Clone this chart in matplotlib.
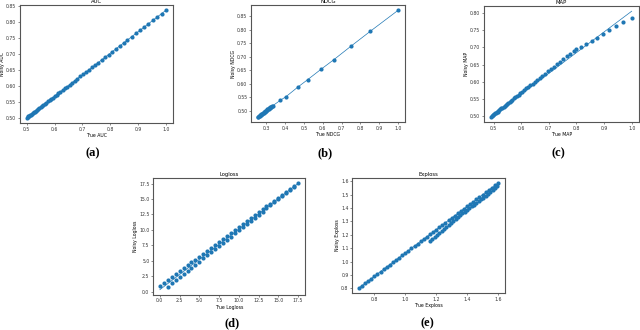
import matplotlib
matplotlib.use('Agg')
import matplotlib.pyplot as plt

# AUC
auc_true = [0.500, 0.503, 0.506, 0.509, 0.512, 0.515, 0.518, 0.521, 0.525, 0.529, 0.533, 0.537,
            0.541, 0.545, 0.550, 0.555, 0.560, 0.565, 0.570, 0.576, 0.582, 0.588, 0.594, 0.600,
            0.607, 0.614, 0.621, 0.629, 0.637, 0.645, 0.654, 0.663, 0.672, 0.682, 0.692, 0.702,
            0.712, 0.723, 0.734, 0.745, 0.757, 0.769, 0.781, 0.794, 0.807, 0.820, 0.834, 0.848,
            0.862, 0.877, 0.892, 0.907, 0.922, 0.937, 0.953, 0.969, 0.985, 1.000]
auc_noisy = [0.500, 0.502, 0.504, 0.506, 0.508, 0.510, 0.512, 0.514, 0.517, 0.519, 0.522, 0.525,
             0.527, 0.530, 0.534, 0.537, 0.540, 0.544, 0.547, 0.551, 0.555, 0.559, 0.563, 0.567,
             0.572, 0.576, 0.581, 0.586, 0.592, 0.597, 0.603, 0.609, 0.615, 0.622, 0.629, 0.635,
             0.642, 0.649, 0.657, 0.664, 0.672, 0.680, 0.688, 0.697, 0.706, 0.714, 0.724, 0.733,
             0.743, 0.753, 0.763, 0.773, 0.783, 0.793, 0.804, 0.814, 0.825, 0.835]
auc_line_x = [0.5, 1.0]
auc_line_y = [0.5, 0.835]

# NDCG
ndcg_true = [0.255, 0.258, 0.261, 0.264, 0.267, 0.270, 0.273, 0.276, 0.279, 0.282, 0.285, 0.288,
             0.291, 0.294, 0.297, 0.300, 0.303, 0.306, 0.309, 0.312, 0.315, 0.318, 0.321, 0.324,
             0.327, 0.330, 0.334, 0.374, 0.405, 0.467, 0.520, 0.590, 0.657, 0.748, 0.852, 1.000]
ndcg_noisy = [0.478, 0.479, 0.481, 0.482, 0.484, 0.485, 0.487, 0.489, 0.490, 0.492, 0.493, 0.495,
              0.497, 0.498, 0.500, 0.501, 0.503, 0.505, 0.506, 0.508, 0.509, 0.511, 0.513, 0.514,
              0.516, 0.517, 0.519, 0.539, 0.553, 0.588, 0.616, 0.654, 0.689, 0.739, 0.795, 0.873]

# MAP
map_true = [0.490, 0.493, 0.496, 0.499, 0.502, 0.505, 0.508, 0.511, 0.514, 0.517, 0.520, 0.524,
            0.528, 0.532, 0.536, 0.540, 0.544, 0.548, 0.553, 0.558, 0.563, 0.568, 0.573, 0.579,
            0.585, 0.591, 0.597, 0.604, 0.611, 0.618, 0.625, 0.633, 0.641, 0.649, 0.658, 0.667,
            0.676, 0.686, 0.696, 0.706, 0.717, 0.728, 0.740, 0.752, 0.764, 0.777, 0.790, 0.800,
            0.817, 0.835, 0.855, 0.874, 0.896, 0.918, 0.943, 0.970, 1.000]
map_noisy = [0.497, 0.499, 0.501, 0.503, 0.505, 0.507, 0.509, 0.511, 0.512, 0.514, 0.516, 0.519,
             0.522, 0.524, 0.527, 0.529, 0.532, 0.534, 0.538, 0.541, 0.544, 0.547, 0.551, 0.554,
             0.558, 0.562, 0.566, 0.571, 0.575, 0.580, 0.584, 0.589, 0.594, 0.600, 0.605, 0.611,
             0.617, 0.623, 0.630, 0.636, 0.643, 0.651, 0.658, 0.666, 0.674, 0.682, 0.691, 0.695,
             0.702, 0.710, 0.719, 0.728, 0.740, 0.750, 0.762, 0.775, 0.785]
map_line_x = [0.49, 1.0]
map_line_y = [0.497, 0.806]

# Logloss (two interleaved rows)
log_true_a = [0.0, 0.5, 1.0, 1.5, 2.0, 2.5, 3.0, 3.5, 4.0, 4.5, 5.0, 5.5, 6.0, 6.5, 7.0, 7.5, 8.0, 8.5,
              9.0, 9.5, 10.0, 10.5, 11.0, 11.5, 12.0, 12.5, 13.0, 13.5, 14.0, 14.5, 15.0, 15.5, 16.0,
              16.5, 17.0, 17.5]
log_noisy_a = [0.90, 1.38, 1.85, 2.33, 2.81, 3.29, 3.76, 4.24, 4.72, 5.19, 5.67, 6.15, 6.63, 7.10,
               7.58, 8.06, 8.53, 9.01, 9.49, 9.97, 10.44, 10.92, 11.40, 11.87, 12.35, 12.83, 13.31,
               13.78, 14.26, 14.74, 15.21, 15.69, 16.17, 16.65, 17.12, 17.55]
log_true_b = [1.0, 1.5, 2.0, 2.5, 3.0, 3.5, 4.0, 4.5, 5.0, 5.5, 6.0, 6.5, 7.0, 7.5, 8.0, 8.5, 9.0, 9.5,
              10.0, 10.5, 11.0, 11.5, 12.0, 12.5, 13.0, 13.5, 14.0, 14.5, 15.0, 15.5, 16.0, 16.5, 17.0]
log_noisy_b = [0.80, 1.31, 1.81, 2.32, 2.83, 3.33, 3.84, 4.34, 4.85, 5.36, 5.86, 6.37, 6.88, 7.38,
               7.89, 8.39, 8.90, 9.41, 9.91, 10.42, 10.93, 11.43, 11.94, 12.44, 12.95, 13.46, 13.96,
               14.47, 14.98, 15.48, 15.99, 16.49, 17.00]
log_line_x = [0.0, 17.5]
log_line_y = [0.3, 17.5]

# Exploss (main row and a shorter lower row)
exp_true_a = [0.70, 0.72, 0.74, 0.76, 0.78, 0.80, 0.82, 0.84, 0.86, 0.88, 0.90, 0.92, 0.94, 0.96,
              0.98, 1.00, 1.02, 1.04, 1.06, 1.08, 1.10, 1.12, 1.14, 1.16, 1.18, 1.20, 1.22, 1.24,
              1.26, 1.28, 1.30, 1.32, 1.34, 1.36, 1.38, 1.40, 1.42, 1.44, 1.46, 1.48, 1.50, 1.52,
              1.54, 1.56, 1.58, 1.60]
exp_noisy_a = [0.805, 0.822, 0.840, 0.857, 0.874, 0.892, 0.909, 0.926, 0.944, 0.961, 0.978, 0.996,
               1.013, 1.030, 1.048, 1.065, 1.082, 1.100, 1.117, 1.134, 1.152, 1.169, 1.186, 1.204,
               1.221, 1.239, 1.256, 1.273, 1.291, 1.308, 1.325, 1.343, 1.360, 1.377, 1.395, 1.412,
               1.429, 1.447, 1.464, 1.481, 1.499, 1.516, 1.533, 1.551, 1.568, 1.585]
exp_true_b = [1.160, 1.175, 1.190, 1.205, 1.220, 1.235, 1.250, 1.265, 1.280, 1.295, 1.310, 1.325,
              1.340, 1.355, 1.370, 1.385, 1.400, 1.415, 1.430, 1.445, 1.460, 1.475, 1.490, 1.505,
              1.520, 1.535, 1.550, 1.565, 1.580, 1.595]
exp_noisy_b = [1.155, 1.170, 1.186, 1.201, 1.216, 1.231, 1.246, 1.261, 1.276, 1.290, 1.304, 1.318,
               1.332, 1.346, 1.360, 1.373, 1.386, 1.399, 1.412, 1.425, 1.438, 1.451, 1.464, 1.477,
               1.490, 1.504, 1.518, 1.532, 1.547, 1.562]
exp_line_x = [0.70, 1.60]
exp_line_y = [0.805, 1.585]

C = '#1f77b4'
FS = 3.3
fig = plt.figure(figsize=(6.4, 3.3), dpi=100)


def panel(rect, xs, ys, line, name, xticks, yticks, caption, cap_xy):
    ax = fig.add_axes(rect)
    for x, y in zip(xs, ys):
        ax.scatter(x, y, s=9, color=C, linewidths=0, zorder=3)
    if line is not None:
        ax.plot(line[0], line[1], color=C, lw=0.5, zorder=2)
    ax.set_title(name, fontsize=FS + 0.5, pad=1.5)
    ax.set_xlabel('True ' + name, fontsize=FS, labelpad=1)
    ax.set_ylabel('Noisy ' + name, fontsize=FS, labelpad=1)
    ax.set_xticks(xticks)
    ax.set_yticks(yticks)
    ax.tick_params(labelsize=FS, length=1.5, width=0.4, pad=1, colors='#333333')
    for sp in ax.spines.values():
        sp.set_linewidth(0.8)
        sp.set_color('#555555')
    fig.text(cap_xy[0], cap_xy[1], caption, ha='center', va='center',
             fontsize=9, fontweight='bold', family='Liberation Serif')
    return ax


panel([0.031, 0.627, 0.239, 0.358], [auc_true], [auc_noisy], (auc_line_x, auc_line_y), 'AUC',
      [0.5, 0.6, 0.7, 0.8, 0.9, 1.0], [0.50, 0.55, 0.60, 0.65, 0.70, 0.75, 0.80, 0.85],
      '(a)', (0.145, 0.536))
panel([0.392, 0.630, 0.241, 0.355], [ndcg_true], [ndcg_noisy], (ndcg_true, ndcg_noisy), 'NDCG',
      [0.3, 0.4, 0.5, 0.6, 0.7, 0.8, 0.9, 1.0], [0.50, 0.55, 0.60, 0.65, 0.70, 0.75, 0.80, 0.85],
      '(b)', (0.508, 0.536))
panel([0.756, 0.630, 0.242, 0.352], [map_true], [map_noisy], (map_line_x, map_line_y), 'MAP',
      [0.5, 0.6, 0.7, 0.8, 0.9, 1.0], [0.50, 0.55, 0.60, 0.65, 0.70, 0.75, 0.80],
      '(c)', (0.872, 0.536))
panel([0.239, 0.106, 0.2375, 0.355], [log_true_a, log_true_b], [log_noisy_a, log_noisy_b],
      (log_line_x, log_line_y), 'Logloss',
      [0.0, 2.5, 5.0, 7.5, 10.0, 12.5, 15.0, 17.5], [0.0, 2.5, 5.0, 7.5, 10.0, 12.5, 15.0, 17.5],
      '(d)', (0.3625, 0.021))
panel([0.550, 0.112, 0.239, 0.349], [exp_true_a, exp_true_b], [exp_noisy_a, exp_noisy_b],
      (exp_line_x, exp_line_y), 'Exploss',
      [0.8, 1.0, 1.2, 1.4, 1.6], [0.8, 0.9, 1.0, 1.1, 1.2, 1.3, 1.4, 1.5, 1.6],
      '(e)', (0.667, 0.021))

fig.savefig('out.png', dpi=100)
